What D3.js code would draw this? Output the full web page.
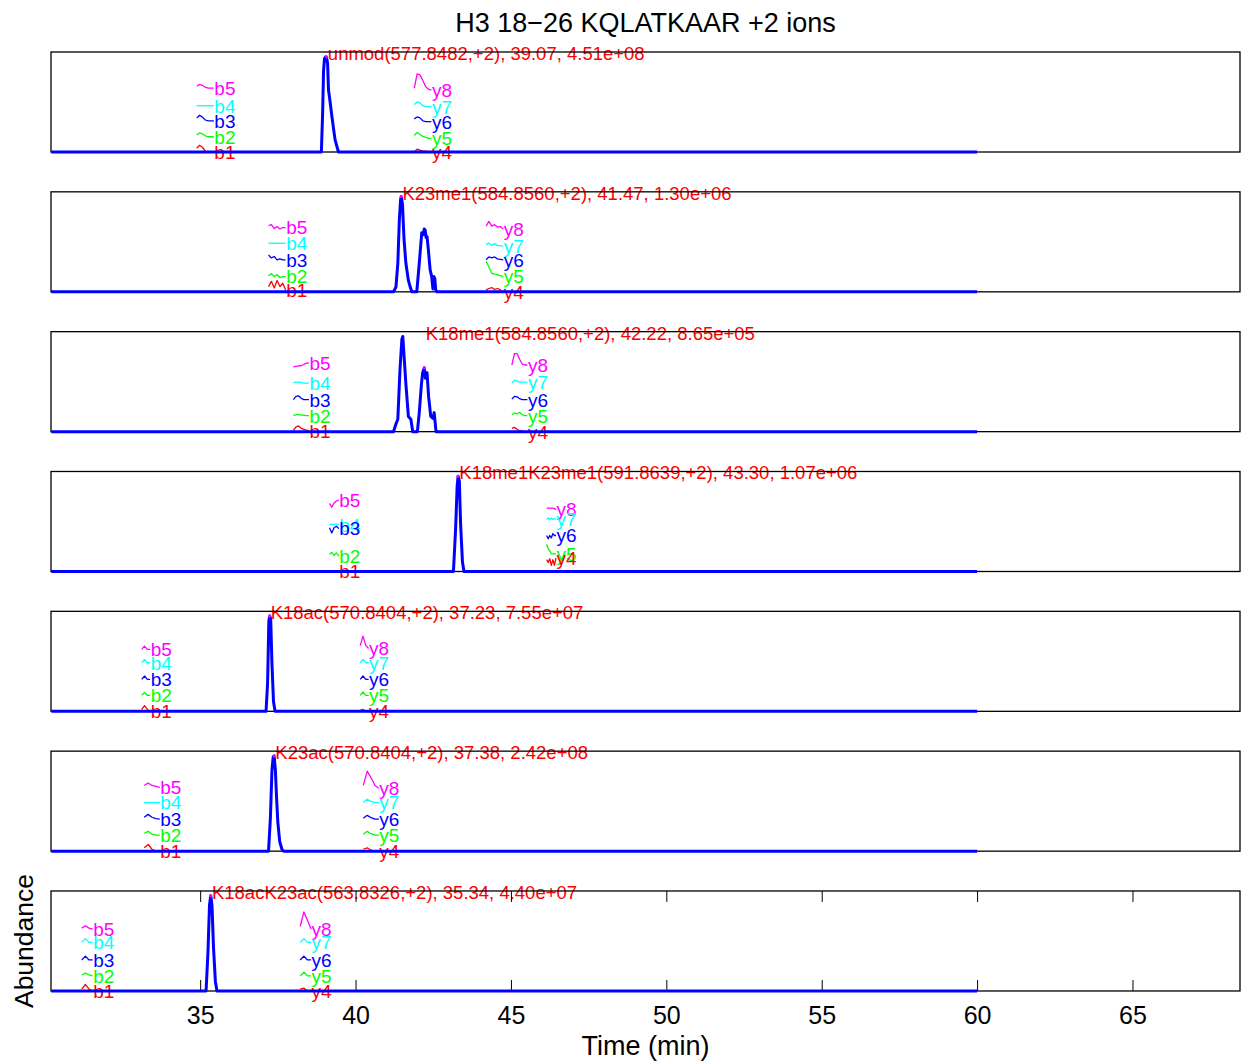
<!DOCTYPE html>
<html>
<head>
<meta charset="utf-8">
<script src="https://cdn.jsdelivr.net/npm/d3@7/dist/d3.min.js"></script>
<style>
  body { margin: 0; background: #fff; }
  text { font-family: "Liberation Sans", Arial, Helvetica, sans-serif; }
</style>
</head>
<body>
<svg id="chart" width="1241" height="1063"></svg>
<script>
// ---- peptide forms (one panel each) ----
const forms       = ["unmod", "K23me1", "K18me1", "K18me1K23me1", "K18ac", "K23ac", "K18acK23ac"];
const precursorMz = ["577.8482", "584.8560", "584.8560", "591.8639", "570.8404", "570.8404", "563.8326"];
const apexRt      = [39.07, 41.47, 42.22, 43.30, 37.23, 37.38, 35.34];
const apexArea    = [4.51e8, 1.30e6, 8.65e5, 1.07e6, 7.55e7, 2.42e8, 4.40e7];
const apexLevel   = [1.0, 1.0, 0.67, 1.0, 1.0, 1.0, 1.0];   // relative height of the annotated apex

// ---- precursor XICs, normalised to panel maximum ----
const xicTime = [
  [30.21, 38.90, 38.94, 38.97, 39.00, 39.04, 39.07, 39.10, 39.13, 39.16, 39.24, 39.34, 39.45, 60.0],
  [30.21, 41.22, 41.30, 41.36, 41.41, 41.45, 41.47, 41.51, 41.56, 41.62, 41.70, 41.76, 41.81, 41.97, 42.05, 42.13, 42.18, 42.21, 42.24, 42.27, 42.30, 42.34, 42.40, 42.45, 42.49, 42.52, 42.55, 42.58, 42.62, 60.0],
  [30.21, 41.22, 41.30, 41.36, 41.43, 41.49, 41.52, 41.56, 41.62, 41.70, 41.78, 41.84, 41.99, 42.05, 42.12, 42.16, 42.21, 42.25, 42.30, 42.35, 42.42, 42.49, 42.53, 42.56, 42.59, 60.0],
  [30.21, 43.15, 43.22, 43.27, 43.30, 43.34, 43.38, 43.44, 43.49, 60.0],
  [30.21, 37.12, 37.17, 37.21, 37.24, 37.27, 37.31, 37.36, 37.41, 60.0],
  [30.21, 37.20, 37.26, 37.31, 37.35, 37.38, 37.42, 37.46, 37.50, 37.56, 37.63, 37.68, 60.0],
  [30.21, 35.19, 35.25, 35.30, 35.34, 35.38, 35.43, 35.49, 35.54, 60.0]
];
const xicIntensity = [
  [0, 0, 0.40, 0.85, 0.98, 1.00, 0.99, 0.93, 0.65, 0.58, 0.37, 0.13, 0, 0],
  [0, 0, 0.05, 0.30, 0.76, 0.97, 1.00, 0.92, 0.55, 0.30, 0.12, 0.05, 0, 0, 0.30, 0.62, 0.60, 0.66, 0.65, 0.57, 0.58, 0.45, 0.23, 0.16, 0.03, 0.16, 0.14, 0.02, 0, 0],
  [0, 0, 0.08, 0.13, 0.65, 0.97, 1.00, 0.80, 0.50, 0.16, 0.13, 0, 0, 0.20, 0.50, 0.62, 0.67, 0.56, 0.62, 0.37, 0.16, 0.14, 0.20, 0.10, 0, 0],
  [0, 0, 0.45, 0.90, 1.00, 0.95, 0.50, 0.10, 0, 0],
  [0, 0, 0.30, 0.95, 1.00, 0.97, 0.50, 0.10, 0, 0],
  [0, 0, 0.35, 0.85, 0.99, 1.00, 0.85, 0.55, 0.30, 0.10, 0.02, 0, 0],
  [0, 0, 0.40, 0.90, 1.00, 0.90, 0.45, 0.10, 0, 0]
];

// ---- fragment ion mini-XICs ----
const bIons = ["b1", "b2", "b3", "b4", "b5"];
const yIons = ["y4", "y5", "y6", "y7", "y8"];
const ionColors = ["#ff0000", "#00ff00", "#0000ff", "#00ffff", "#ff00ff"];
const bStart = [34.89, 37.20, 38.00, 39.16, 33.12, 33.20, 31.19];
const yStart = [41.89, 44.20, 45.03, 46.15, 40.15, 40.25, 38.22];
const traceSpan = [0.55, 0.55, 0.50, 0.30, 0.27, 0.50, 0.35];
const bLevels = [
  [0, 0.160, 0.326, 0.486, 0.670],
  [0.02, 0.160, 0.336, 0.510, 0.675],
  [0.01, 0.168, 0.336, 0.510, 0.720],
  [0, 0.160, 0.450, 0.490, 0.750],
  [0, 0.168, 0.336, 0.510, 0.650],
  [0, 0.168, 0.336, 0.510, 0.670],
  [0, 0.158, 0.326, 0.510, 0.650]
];
const yLevels = [
  [0, 0.144, 0.318, 0.476, 0.650],
  [0, 0.160, 0.336, 0.476, 0.660],
  [0, 0.168, 0.336, 0.520, 0.700],
  [0.144, 0.186, 0.378, 0.546, 0.650],
  [0, 0.168, 0.336, 0.510, 0.660],
  [0, 0.168, 0.336, 0.510, 0.660],
  [0, 0.158, 0.326, 0.510, 0.650]
];
// heights relative to each label level, b1..b5 / y4..y8
const bTraces = [
  [[0.04, 0.07, 0.05, 0.01, 0, 0, 0], [0.02, 0.04, 0.03, 0.01, 0, 0, 0], [0.03, 0.06, 0.04, 0.01, 0, 0, 0], [0, 0, 0, 0, 0, 0, 0], [0.02, 0.04, 0.03, 0.01, 0, 0, 0]],
  [[0.035, 0.09, 0.02, 0.10, 0.035, 0.07, 0], [0.01, 0.03, 0, 0.02, -0.01, 0, 0], [0.05, 0.02, 0.035, 0, 0.01, 0, 0], [0, 0, 0, 0, 0, 0, 0], [0.02, 0.03, -0.01, 0.01, -0.015, 0, 0]],
  [[0.005, 0.04, 0.05, 0.025, 0.015, 0.005, 0], [0, 0.01, 0.01, 0.005, 0.005, 0, 0], [0, 0.035, 0.04, 0.015, 0, 0, 0], [0.005, 0.01, 0.01, 0.005, 0, 0, 0], [-0.04, -0.035, -0.03, -0.028, -0.015, 0, 0]],
  [[0, 0, 0, 0, 0], [0.02, 0.04, 0.01, 0.035, 0], [0.01, -0.045, 0.01, 0.025, 0], [0.005, 0.005, 0.005, 0.005, 0.005], [-0.035, -0.075, -0.03, -0.01, 0]],
  [[0.02, 0.06, 0.02, 0], [0, 0.03, 0, 0], [0, 0.035, 0, 0], [0, 0.035, 0, 0], [0, 0.035, 0, 0]],
  [[0.035, 0.07, 0.02, 0, 0], [0.02, 0.04, 0.01, 0, 0], [0.02, 0.05, 0.02, 0.005, 0], [0, 0, 0, 0, 0], [0.02, 0.045, 0.02, 0.01, 0]],
  [[0.02, 0.07, 0.02, 0], [0.01, 0.03, 0.01, 0], [0, 0.04, 0, 0], [0, 0.04, 0, 0], [0.01, 0.035, 0.01, 0]]
];
const yTraces = [
  [[0, 0.03, 0.02, 0.01, 0.01, 0, 0], [0.03, 0.06, 0.04, 0.02, 0.01, 0, 0], [0.03, 0.05, 0.04, 0.01, 0, 0, 0], [0.02, 0.05, 0.04, 0.01, 0, 0, 0], [0.02, 0.17, 0.16, 0.10, 0.035, 0.01, 0]],
  [[0.02, 0.035, 0.045, 0.025, 0.035, 0.02, 0], [0.16, 0.10, 0.035, 0.025, 0.02, 0.01, 0], [0, 0.03, 0.02, 0.03, 0.01, 0.005, 0], [0.02, 0.035, 0.01, 0.03, 0.01, 0.01, 0], [0.03, 0.08, 0.03, 0.045, 0.02, 0.025, 0]],
  [[0.035, 0.045, 0.025, 0.01, 0.005, 0, 0], [0.01, 0.028, 0.02, 0.035, 0.01, 0, 0], [0.005, 0.035, 0.03, 0.01, 0, 0, 0], [-0.01, 0.02, 0.01, 0, 0, 0, 0], [0, 0.12, 0.12, 0.06, 0.01, 0, 0]],
  [[-0.02, -0.05, -0.01, -0.08, -0.02, -0.08, 0], [0.10, 0.05, 0.035, 0, 0, 0, 0], [0, -0.035, 0, -0.025, 0.02, 0, 0], [0, 0.015, 0, 0.015, 0, 0.01, 0], [0.015, 0.015, 0.015, 0.015, 0.015, 0.01, 0]],
  [[0.01, 0.02, 0, 0], [0, 0.035, 0, 0], [0, 0.035, 0, 0], [0, 0.035, 0, 0], [0.03, 0.13, 0.03, 0]],
  [[0.02, 0.035, 0.01, 0, 0], [0.01, 0.04, 0.015, 0, 0], [0.01, 0.04, 0.015, 0, 0], [0, 0.035, 0.01, 0, 0], [0.03, 0.18, 0.11, 0.03, 0]],
  [[0.02, 0.03, 0, 0], [0, 0.04, 0, 0], [0, 0.04, 0, 0], [0, 0.04, 0, 0], [0.03, 0.18, 0.09, 0]]
];

// ---- axis ----
const timeTicks = [35, 40, 45, 50, 55, 60, 65];
const timeDomain = [30.2, 68.46];

// ---- layout ----
const svg = d3.select("#chart");
const left = 51, right = 1240, panelH = 100, firstTop = 52, pitch = 139.83;
const x = d3.scaleLinear().domain(timeDomain).range([left, right]);

const sci = v => v.toExponential(2).replace(/e([+-])(\d)$/, "e$10$2");

svg.append("text")
  .attr("x", (left + right) / 2).attr("y", 31.5)
  .attr("text-anchor", "middle").attr("font-size", 27)
  .text("H3 18\u221226 KQLATKAAR +2 ions");

forms.forEach((form, i) => {
  const top = firstTop + i * pitch;
  const y = d3.scaleLinear().domain([0, 1.05]).range([top + panelH, top]);
  const g = svg.append("g");

  // fragment traces with labels (highest ion first so lower ones sit on top)
  const drawGroup = (start, levels, traces, names) => {
    for (let k = names.length - 1; k >= 0; k--) {
      const vals = traces[k];
      const pts = vals.map((v, j) => [start + traceSpan[i] * j / (vals.length - 1), levels[k] + v]);
      g.append("path")
        .attr("d", d3.line().x(d => x(d[0])).y(d => y(d[1]))(pts))
        .attr("fill", "none").attr("stroke", ionColors[k]).attr("stroke-width", 1.3)
        .attr("stroke-linejoin", "round");
      g.append("text")
        .attr("x", x(start + traceSpan[i]) + 0.5)
        .attr("y", y(levels[k]))
        .attr("dy", "0.36em")
        .attr("font-size", 19)
        .attr("fill", ionColors[k])
        .text(names[k]);
    }
  };
  drawGroup(bStart[i], bLevels[i], bTraces[i], bIons);
  drawGroup(yStart[i], yLevels[i], yTraces[i], yIons);

  // annotation
  g.append("text")
    .attr("x", x(apexRt[i]) + 1.2)
    .attr("y", y(1.0) + 3.2)
    .attr("font-size", 18.5)
    .attr("fill", "#ff0000")
    .text(`${form}(${precursorMz[i]},+2), ${apexRt[i].toFixed(2)}, ${sci(apexArea[i])}`);

  // frame
  g.append("rect")
    .attr("x", left).attr("y", top).attr("width", right - left).attr("height", panelH)
    .attr("fill", "none").attr("stroke", "#000").attr("stroke-width", 1.3);

  // ticks only on the last panel
  if (i === forms.length - 1) {
    const axB = g.append("g").attr("transform", `translate(0,${top + panelH})`)
      .call(d3.axisBottom(x).tickValues(timeTicks).tickSize(-11).tickSizeOuter(0).tickPadding(15).tickFormat(d3.format("d")));
    axB.select(".domain").remove();
    axB.selectAll("text").attr("font-size", 25).attr("font-family", "Liberation Sans, Arial, sans-serif").attr("fill", "#000");
    axB.selectAll("line").attr("stroke", "#000");
    const axT = g.append("g").attr("transform", `translate(0,${top})`)
      .call(d3.axisTop(x).tickValues(timeTicks).tickSize(-11).tickSizeOuter(0).tickFormat(""));
    axT.select(".domain").remove();
    axT.selectAll("line").attr("stroke", "#000");
  }

  // precursor XIC
  const pts = xicTime[i].map((t, j) => [t, xicIntensity[i][j]]);
  g.append("path")
    .attr("d", d3.line().x(d => x(d[0])).y(d => y(d[1]))(pts))
    .attr("fill", "none").attr("stroke", "#0000ff").attr("stroke-width", 3)
    .attr("stroke-linejoin", "round");

  g.append("circle")
    .attr("cx", x(apexRt[i])).attr("cy", y(apexLevel[i])).attr("r", 1.5)
    .attr("fill", "#ff00ff");
});

svg.append("text")
  .attr("x", (left + right) / 2).attr("y", 1055)
  .attr("text-anchor", "middle").attr("font-size", 27)
  .text("Time (min)");

svg.append("text")
  .attr("transform", "translate(33,941) rotate(-90)")
  .attr("text-anchor", "middle").attr("font-size", 26.5)
  .text("Abundance");
</script>
</body>
</html>
